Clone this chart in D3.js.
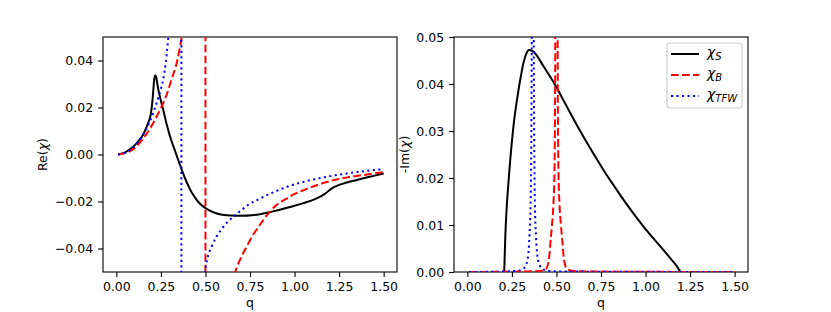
<html>
<head>
  <script src="https://d3js.org/d3.v7.min.js"></script>
  <style>
    body { margin: 0; background: #fff; }
    text { font-family: 'DejaVu Sans', sans-serif; }
  </style>
</head>
<body>
<div id="chart"></div>
<script>
  /*--- values, as [q, value] ---*/

  // Re(chi), left panel
  var reS = [[0.01,0],[0.05,0.0009],[0.1,0.0037],[0.13,0.0062],[0.151,0.0085],[0.17,0.0118],[0.19,0.016],
    [0.2,0.021],[0.207,0.027],[0.212,0.0315],[0.217,0.0336],[0.222,0.0333],[0.23,0.03],[0.24,0.026],
    [0.263,0.019],[0.282,0.013],[0.3,0.008],[0.33,0.0014],[0.367,-0.0065],[0.395,-0.0118],[0.423,-0.0162],
    [0.46,-0.0202],[0.494,-0.0225],[0.53,-0.0241],[0.573,-0.0253],[0.62,-0.0259],[0.667,-0.0261],
    [0.761,-0.0259],[0.873,-0.0243],[0.986,-0.0221],[1.05,-0.0207],[1.108,-0.0192],[1.15,-0.0177],
    [1.175,-0.0165],[1.19,-0.0155],[1.205,-0.0146],[1.23,-0.0136],[1.277,-0.0123],[1.37,-0.0104],
    [1.45,-0.009],[1.5,-0.0081]];
  var reB = [[0.01,0],[0.05,0.0006],[0.1,0.0026],[0.151,0.0068],[0.2,0.0125],[0.245,0.019],[0.28,0.025],
    [0.31,0.032],[0.342,0.04],[0.367,0.05],[0.39,0.061],[0.42,0.08],[0.45,0.11],[0.47,0.15],[0.485,0.25],
    [0.495,0.6],[0.4995,3],[0.5005,-3],[0.505,-0.6],[0.52,-0.25],[0.55,-0.14],[0.6,-0.075],[0.64,-0.058],
    [0.667,-0.05],[0.7,-0.0438],[0.733,-0.039],[0.765,-0.0345],[0.798,-0.0308],[0.83,-0.0273],
    [0.864,-0.0241],[0.9,-0.0214],[0.948,-0.0191],[1.0,-0.0168],[1.05,-0.0152],[1.108,-0.0135],
    [1.22,-0.0109],[1.3,-0.0097],[1.408,-0.0085],[1.5,-0.0075]];
  var reT = [[0.01,0],[0.05,0.0007],[0.1,0.0034],[0.15,0.0085],[0.189,0.0142],[0.21,0.0185],[0.235,0.024],
    [0.25,0.028],[0.263,0.032],[0.277,0.039],[0.288,0.047],[0.3,0.057],[0.32,0.08],[0.34,0.13],[0.355,0.3],
    [0.3635,3],[0.3665,-3],[0.37,-1],[0.38,-0.4],[0.4,-0.2],[0.43,-0.11],[0.46,-0.075],[0.48,-0.06],
    [0.497,-0.05],[0.51,-0.0445],[0.536,-0.039],[0.56,-0.0352],[0.592,-0.0316],[0.62,-0.029],
    [0.657,-0.0265],[0.7,-0.0238],[0.742,-0.0213],[0.8,-0.019],[0.854,-0.017],[0.9,-0.0155],
    [0.967,-0.0135],[1.033,-0.012],[1.108,-0.0106],[1.2,-0.0092],[1.3,-0.008],[1.4,-0.007],[1.5,-0.0062]];

  // -Im(chi), right panel
  var imS = [[0.207,0],[0.21,0.004],[0.215,0.0095],[0.222,0.0145],[0.229,0.0182],[0.244,0.0253],
    [0.263,0.0324],[0.28,0.037],[0.3,0.0416],[0.32,0.0452],[0.343,0.0472],[0.365,0.047],[0.385,0.0463],
    [0.43,0.0436],[0.488,0.0401],[0.53,0.0372],[0.582,0.0335],[0.63,0.0302],[0.675,0.0273],[0.72,0.0244],
    [0.769,0.0214],[0.82,0.0185],[0.863,0.0161],[0.91,0.0136],[0.957,0.0112],[1.0,0.0091],[1.05,0.0069],
    [1.1,0.0047],[1.144,0.0027],[1.17,0.0015],[1.196,0]];
  var imB = [[0.01,0],[0.3,0.0001],[0.4,0.0002],[0.44,0.0006],[0.457,0.0025],[0.469,0.0075],[0.475,0.01],
    [0.4832,0.0147],[0.489,0.0217],[0.4935,0.05],[0.496,0.12],[0.5,0.5],[0.504,0.12],[0.5065,0.05],
    [0.511,0.0217],[0.5168,0.0147],[0.525,0.01],[0.531,0.0075],[0.543,0.0025],[0.56,0.0006],[0.6,0.0002],
    [0.7,0.0001],[1.5,0]];
  var imT = [[0.01,0],[0.2,0.0001],[0.287,0.0003],[0.317,0.0008],[0.337,0.0025],[0.3484,0.0075],
    [0.355,0.0147],[0.3605,0.04],[0.363,0.1],[0.367,0.4],[0.371,0.1],[0.3735,0.04],[0.379,0.0147],
    [0.3856,0.0075],[0.397,0.0025],[0.417,0.0008],[0.447,0.0003],[0.55,0.0001],[1.5,0]];

  var qTicks = [0, 0.25, 0.5, 0.75, 1, 1.25, 1.5];
  var reTicks = [-0.04, -0.02, 0, 0.02, 0.04];
  var imTicks = [0, 0.01, 0.02, 0.03, 0.04, 0.05];
  var legendNames = [["χ", "S"], ["χ", "B"], ["χ", "TFW"]];

  /*--- page setup ---*/

  var W = 831, H = 312,
    plotTop = 37, plotBottom = 272, pw = 294,
    styles = [
      { color: "#000000", dash: null, curve: d3.curveCatmullRom.alpha(0.5) },
      { color: "#ff0000", dash: "7.7,3.3", curve: d3.curveMonotoneX },
      { color: "#0000ff", dash: "2.1,3.4", curve: d3.curveMonotoneX }
    ];

  var svg = d3.select("#chart").append("svg")
    .attr("width", W).attr("height", H);

  function drawPanel(id, left, yDomain, yTicks, series, ylabel, ylabelX) {
    var x = d3.scaleLinear().domain([-0.075, 1.575]).range([left, left + pw]),
      y = d3.scaleLinear().domain(yDomain).range([plotBottom, plotTop]),
      g = svg.append("g");

    svg.append("clipPath").attr("id", id)
      .append("rect").attr("x", left).attr("y", plotTop)
      .attr("width", pw).attr("height", plotBottom - plotTop);

    // frame
    g.append("rect")
      .attr("x", left).attr("y", plotTop)
      .attr("width", pw).attr("height", plotBottom - plotTop)
      .attr("fill", "none").attr("stroke", "#000").attr("stroke-width", 1.1);

    series.forEach(function(s, i) {
      var line = d3.line()
        .x(function(d) { return x(d[0]); })
        .y(function(d) { return y(d[1]); })
        .curve(styles[i].curve);
      g.append("path")
        .attr("d", line(s))
        .attr("clip-path", "url(#" + id + ")")
        .attr("fill", "none")
        .attr("stroke", styles[i].color)
        .attr("stroke-width", 2)
        .attr("stroke-dasharray", styles[i].dash);
    });

    var xAxis = g.append("g")
      .attr("transform", "translate(0," + plotBottom + ")")
      .call(d3.axisBottom(x).tickValues(qTicks).tickFormat(d3.format(".2f"))
        .tickSize(4.9).tickPadding(4.9));
    var yAxis = g.append("g")
      .attr("transform", "translate(" + left + ",0)")
      .call(d3.axisLeft(y).tickValues(yTicks).tickFormat(d3.format(".2f"))
        .tickSize(4.9).tickPadding(4.9));

    [xAxis, yAxis].forEach(function(a) {
      a.select(".domain").remove();
      a.selectAll("line").attr("stroke", "#000").attr("stroke-width", 1.1);
      a.selectAll("text").attr("fill", "#000")
        .style("font-family", "'DejaVu Sans', sans-serif").style("font-size", "12.5px");
    });

    g.append("text")
      .attr("x", left + pw / 2).attr("y", 307)
      .attr("text-anchor", "middle").style("font-size", "12.5px")
      .text("q");

    var yl = g.append("text")
      .attr("transform", "translate(" + ylabelX + "," + ((plotTop + plotBottom) / 2) + ") rotate(-90)")
      .attr("text-anchor", "middle").style("font-size", "12.5px");
    yl.append("tspan").text(ylabel + "(");
    yl.append("tspan").style("font-style", "italic").text("χ");
    yl.append("tspan").text(")");
  }

  drawPanel("clipL", 103, [-0.05, 0.05], reTicks, [reS, reB, reT], "Re", 47);
  drawPanel("clipR", 454, [0, 0.05], imTicks, [imS, imB, imT], "-Im", 409);

  /*--- legend ---*/

  var leg = svg.append("g");
  leg.append("rect")
    .attr("x", 667).attr("y", 43).attr("width", 75).attr("height", 65)
    .attr("rx", 3).attr("ry", 3)
    .attr("fill", "#fff").attr("fill-opacity", 0.8)
    .attr("stroke", "#cccccc").attr("stroke-width", 1.1);

  legendNames.forEach(function(n, i) {
    var yy = 54 + i * 21;
    leg.append("line")
      .attr("x1", 671).attr("x2", 699).attr("y1", yy).attr("y2", yy)
      .attr("stroke", styles[i].color).attr("stroke-width", 2)
      .attr("stroke-dasharray", styles[i].dash);
    var t = leg.append("text")
      .attr("x", 707).attr("y", yy + 3)
      .style("font-size", "14px").style("font-style", "italic");
    t.append("tspan").text(n[0]);
    t.append("tspan").attr("dy", 2.5).style("font-size", "10px").text(n[1]);
  });
</script>
</body>
</html>
